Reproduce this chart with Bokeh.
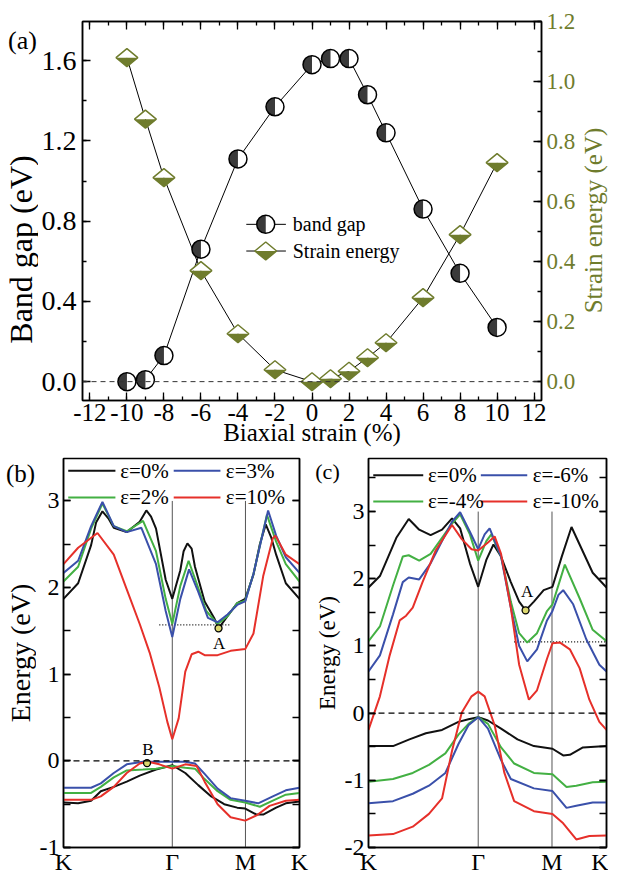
from math import pi
from bokeh.plotting import figure
from bokeh.models import (LinearAxis, Range1d, Label, SingleIntervalTicker,
                          FixedTicker, NumeralTickFormatter, Span, CustomJSTickFormatter)
from bokeh.layouts import column, row
from bokeh.embed import file_html
from bokeh.resources import INLINE

FONT = "Liberation Serif"
OLIVE = "#6f7c2d"
DARK = "#3a3a3a"
C_BLACK = "#111111"
C_GREEN = "#43b043"
C_BLUE = "#3a50aa"
C_RED = "#e6302a"

# ---------------- panel (a) data ----------------
STRAIN = [-10, -9, -8, -6, -4, -2, 0, 1, 2, 3, 4, 6, 8, 10]
BAND_GAP = [0.00, 0.01, 0.13, 0.66, 1.11, 1.37, 1.58, 1.61, 1.61, 1.43, 1.24, 0.86, 0.54, 0.27]
STRAIN_ENERGY = [1.08, 0.875, 0.68, 0.37, 0.16, 0.04, 0.00, 0.01, 0.035, 0.08, 0.13, 0.28, 0.49, 0.73]
A_SERIES = ["band gap", "Strain energy"]

# ---------------- k-path ----------------
KPATH_TICKS = [0.0, 0.461, 0.771, 1.0]
KPATH_LABELS = ["K", "Γ", "M", "K"]

# ---------------- panel (b) : tensile strain ----------------
B_LEGEND = ["ε=0%", "ε=3%", "ε=2%", "ε=10%"]
B_CB0_K = [0, 0.062, 0.117, 0.138, 0.165, 0.190, 0.213, 0.268, 0.323, 0.351, 0.371, 0.392, 0.433, 0.461, 0.495, 0.509, 0.525, 0.543, 0.557, 0.598, 0.640, 0.657, 0.695, 0.736, 0.770, 0.805, 0.832, 0.857, 0.880, 0.901, 0.942, 1.0]
B_CB0_E = [1.87, 2.05, 2.49, 2.75, 2.88, 2.80, 2.69, 2.64, 2.76, 2.89, 2.82, 2.68, 2.09, 1.87, 2.20, 2.42, 2.51, 2.45, 2.24, 1.84, 1.64, 1.53, 1.67, 1.82, 1.87, 2.15, 2.50, 2.73, 2.58, 2.38, 2.05, 1.87]
B_CB2_K = [0, 0.062, 0.117, 0.165, 0.213, 0.268, 0.337, 0.392, 0.433, 0.461, 0.495, 0.530, 0.564, 0.605, 0.653, 0.695, 0.736, 0.770, 0.805, 0.862, 0.901, 0.942, 1.0]
B_CB2_E = [2.07, 2.24, 2.68, 2.97, 2.71, 2.65, 2.77, 2.42, 1.87, 1.58, 2.02, 2.31, 2.05, 1.73, 1.58, 1.67, 1.82, 1.85, 2.16, 2.84, 2.53, 2.27, 2.07]
B_CB3_K = [0, 0.062, 0.117, 0.165, 0.213, 0.268, 0.330, 0.392, 0.433, 0.461, 0.495, 0.532, 0.571, 0.612, 0.653, 0.695, 0.736, 0.770, 0.805, 0.867, 0.901, 0.942, 1.0]
B_CB3_E = [2.17, 2.31, 2.71, 2.99, 2.71, 2.64, 2.69, 2.27, 1.73, 1.43, 1.87, 2.21, 1.95, 1.65, 1.60, 1.69, 1.80, 1.84, 2.16, 2.89, 2.60, 2.35, 2.17]
B_CB10_K = [0, 0.062, 0.144, 0.213, 0.268, 0.323, 0.365, 0.406, 0.440, 0.461, 0.488, 0.516, 0.543, 0.571, 0.598, 0.653, 0.708, 0.770, 0.805, 0.846, 0.887, 0.898, 0.942, 1.0]
B_CB10_E = [2.27, 2.46, 2.63, 2.38, 1.98, 1.58, 1.25, 0.85, 0.45, 0.25, 0.49, 1.03, 1.23, 1.26, 1.22, 1.22, 1.27, 1.29, 1.47, 2.13, 2.57, 2.60, 2.38, 2.27]
B_VB0_K = [0, 0.062, 0.117, 0.158, 0.213, 0.268, 0.323, 0.392, 0.461, 0.516, 0.571, 0.626, 0.681, 0.736, 0.770, 0.818, 0.846, 0.901, 0.942, 1.0]
B_VB0_E = [-0.48, -0.49, -0.46, -0.35, -0.30, -0.24, -0.17, -0.10, -0.05, -0.14, -0.28, -0.41, -0.50, -0.54, -0.55, -0.62, -0.62, -0.54, -0.49, -0.47]
B_VB2_K = [0, 0.117, 0.158, 0.213, 0.268, 0.337, 0.392, 0.461, 0.516, 0.557, 0.598, 0.653, 0.708, 0.770, 0.832, 0.887, 0.942, 1.0]
B_VB2_E = [-0.37, -0.37, -0.30, -0.19, -0.11, -0.10, -0.09, -0.06, -0.08, -0.09, -0.21, -0.35, -0.45, -0.48, -0.53, -0.46, -0.39, -0.37]
B_VB3_K = [0, 0.117, 0.158, 0.213, 0.268, 0.337, 0.392, 0.461, 0.516, 0.557, 0.598, 0.653, 0.708, 0.770, 0.825, 0.887, 0.942, 1.0]
B_VB3_E = [-0.31, -0.31, -0.26, -0.14, -0.04, -0.01, -0.01, -0.01, -0.01, -0.03, -0.15, -0.32, -0.43, -0.46, -0.49, -0.41, -0.34, -0.31]
B_VB10_K = [0, 0.117, 0.158, 0.213, 0.268, 0.323, 0.358, 0.406, 0.461, 0.516, 0.564, 0.598, 0.653, 0.708, 0.770, 0.818, 0.873, 0.942, 1.0]
B_VB10_E = [-0.45, -0.45, -0.41, -0.30, -0.14, -0.03, -0.01, -0.04, -0.09, -0.04, -0.06, -0.24, -0.50, -0.65, -0.69, -0.63, -0.52, -0.46, -0.45]
B_DOTTED_K = [0.406, 0.708]
B_DOTTED_E = [1.57, 1.57]
B_POINTS_K = [0.657, 0.354]
B_POINTS_E = [1.53, -0.026]
B_POINT_NAMES = ["A", "B"]

# ---------------- panel (c) : compressive strain ----------------
C_LEGEND = ["ε=0%", "ε=-6%", "ε=-4%", "ε=-10%"]
C_CB0_K = [0, 0.048, 0.117, 0.169, 0.213, 0.261, 0.309, 0.351, 0.385, 0.426, 0.461, 0.495, 0.525, 0.557, 0.598, 0.633, 0.660, 0.695, 0.736, 0.773, 0.812, 0.853, 0.887, 0.942, 1.0]
C_CB0_E = [1.87, 2.04, 2.61, 2.89, 2.73, 2.65, 2.73, 2.90, 2.75, 2.23, 1.88, 2.28, 2.51, 2.33, 1.95, 1.66, 1.53, 1.66, 1.83, 1.88, 2.33, 2.77, 2.51, 2.09, 1.87]
C_CB4_K = [0, 0.048, 0.103, 0.144, 0.169, 0.213, 0.261, 0.309, 0.351, 0.385, 0.426, 0.461, 0.495, 0.516, 0.557, 0.598, 0.633, 0.667, 0.708, 0.750, 0.773, 0.825, 0.887, 0.942, 1.0]
C_CB4_E = [1.07, 1.29, 1.90, 2.33, 2.35, 2.27, 2.37, 2.61, 2.82, 2.96, 2.66, 2.27, 2.56, 2.66, 2.33, 1.66, 1.19, 1.05, 1.19, 1.52, 1.62, 2.21, 1.71, 1.24, 1.07]
C_CB6_K = [0, 0.048, 0.103, 0.144, 0.169, 0.213, 0.261, 0.309, 0.351, 0.385, 0.426, 0.461, 0.488, 0.509, 0.557, 0.598, 0.633, 0.667, 0.708, 0.750, 0.773, 0.798, 0.818, 0.860, 0.915, 0.970, 1.0]
C_CB6_E = [0.62, 0.86, 1.47, 1.95, 2.02, 1.99, 2.23, 2.56, 2.85, 2.99, 2.70, 2.44, 2.66, 2.75, 2.33, 1.57, 1.00, 0.77, 0.95, 1.38, 1.52, 1.76, 1.83, 1.62, 1.10, 0.72, 0.62]
C_CB10_K = [0, 0.048, 0.089, 0.131, 0.158, 0.186, 0.227, 0.282, 0.351, 0.392, 0.433, 0.461, 0.502, 0.530, 0.557, 0.598, 0.633, 0.674, 0.708, 0.750, 0.773, 0.805, 0.846, 0.887, 0.928, 0.970, 1.0]
C_CB10_E = [-0.25, 0.25, 0.86, 1.38, 1.45, 1.57, 1.95, 2.42, 2.80, 2.59, 2.44, 2.42, 2.54, 2.63, 2.37, 1.57, 0.72, 0.20, 0.34, 0.81, 1.04, 1.05, 0.95, 0.67, 0.20, -0.13, -0.25]
C_VB0_K = [0, 0.103, 0.172, 0.241, 0.309, 0.378, 0.420, 0.461, 0.502, 0.557, 0.626, 0.695, 0.773, 0.818, 0.846, 0.901, 1.0]
C_VB0_E = [-0.49, -0.49, -0.39, -0.30, -0.25, -0.13, -0.09, -0.06, -0.11, -0.23, -0.39, -0.49, -0.53, -0.63, -0.62, -0.51, -0.49]
C_VB4_K = [0, 0.103, 0.186, 0.254, 0.323, 0.378, 0.420, 0.461, 0.502, 0.557, 0.612, 0.695, 0.773, 0.832, 0.873, 0.942, 1.0]
C_VB4_E = [-1.02, -0.98, -0.89, -0.77, -0.60, -0.32, -0.16, -0.06, -0.16, -0.51, -0.75, -0.89, -0.91, -1.10, -1.08, -1.03, -1.02]
C_VB6_K = [0, 0.103, 0.186, 0.254, 0.323, 0.378, 0.420, 0.461, 0.502, 0.557, 0.598, 0.695, 0.773, 0.832, 0.873, 0.942, 1.0]
C_VB6_E = [-1.34, -1.31, -1.20, -1.08, -0.89, -0.46, -0.18, -0.06, -0.23, -0.70, -0.98, -1.12, -1.16, -1.41, -1.38, -1.33, -1.33]
C_VB10_K = [0, 0.103, 0.186, 0.254, 0.309, 0.351, 0.392, 0.433, 0.461, 0.488, 0.530, 0.571, 0.612, 0.695, 0.773, 0.818, 0.873, 0.928, 1.0]
C_VB10_E = [-1.82, -1.80, -1.69, -1.50, -1.27, -0.56, 0.01, 0.25, 0.32, 0.25, -0.18, -0.89, -1.31, -1.46, -1.50, -1.64, -1.88, -1.83, -1.82]
C_DOTTED_K = [0.612, 1.0]
C_DOTTED_E = [1.06, 1.06]
C_POINTS_K = [0.660]
C_POINTS_E = [1.53]
C_POINT_NAMES = ["A"]

# ---------------- layout (pixels) ----------------
AX = (-12.4, 12.4)
AY = (-0.094, 1.795)
AY2 = (-0.0626, 1.2005)
BY = (-1.0, 3.49)
CY = (-2.0, 3.79)

A_H = 452
A_TOP, A_FH, A_BOT = 21, 379, 52
SAL_W, PA_W, SAR_W = 38, 540, 30
PA_BL, PA_BR = 42, 34
A_FW = PA_W - PA_BL - PA_BR

BC_H = 425
BC_TOP, BC_BOT = 6, 28
SBL_W, PB_W, SCL_W, PC_W = 36, 277, 28, 267
PB_BL, PB_BR = 24, 14
PC_BL, PC_BR = 26, 2
BC_FH = BC_H - BC_TOP - BC_BOT

EMPTY = CustomJSTickFormatter(code="return ''")


def style_axis(ax, size="26px", standoff=6, color="black", hide=False,
               tick_in=8, minor_in=4):
    ax.axis_line_width = 1.5
    ax.axis_line_color = "black"
    ax.major_tick_in = tick_in
    ax.major_tick_out = 0
    ax.minor_tick_in = minor_in
    ax.minor_tick_out = 0
    ax.major_tick_line_width = 1.3
    ax.minor_tick_line_width = 1.3
    ax.major_tick_line_color = "black"
    ax.minor_tick_line_color = "black"
    ax.major_label_text_font = FONT
    ax.major_label_text_font_size = size
    ax.major_label_text_color = color
    ax.major_label_standoff = 0 if hide else standoff
    if hide:
        ax.formatter = EMPTY


def base_fig(width, height, xr, yr, bl, br, bt, bb):
    p = figure(width=width, height=height, x_range=Range1d(*xr), y_range=Range1d(*yr),
               output_backend="svg", toolbar_location=None, title=None,
               min_border_left=bl, min_border_right=br,
               min_border_top=bt, min_border_bottom=bb)
    p.grid.visible = False
    p.outline_line_color = "black"
    p.outline_line_width = 1.5
    p.background_fill_color = "white"
    p.border_fill_color = "white"
    return p


def strip(width, height, frame_top, frame_h):
    # the strip's frame lines up with its row neighbours' frames, so its y range
    # is given in the figure's own pixel rows (measured from the top)
    s = figure(width=width, height=height, x_range=Range1d(0, width),
               y_range=Range1d(frame_top + frame_h, frame_top), output_backend="svg",
               toolbar_location=None, title=None, x_axis_type=None, y_axis_type=None,
               min_border_left=0, min_border_right=0,
               min_border_top=frame_top, min_border_bottom=height - frame_top - frame_h)
    s.grid.visible = False
    s.outline_line_color = None
    s.background_fill_color = "white"
    s.border_fill_color = "white"
    return s


def lab(p, x, y, text, size, align="center", color="black", angle=0.0,
        baseline="middle", y_range_name="default"):
    p.add_layout(Label(x=x, y=y, text=text, text_font=FONT, text_font_size=size,
                       text_align=align, text_baseline=baseline, text_color=color,
                       angle=angle, y_range_name=y_range_name))


# ================= panel (a) =================
pa = base_fig(PA_W, A_H, AX, AY, PA_BL, PA_BR, A_TOP, A_BOT)
pa.extra_y_ranges = {"se": Range1d(*AY2)}

xa = pa.xaxis[0]
xa.ticker = SingleIntervalTicker(interval=2, num_minor_ticks=2)
xa.formatter = NumeralTickFormatter(format="0")
style_axis(xa, size="25px", standoff=3)
xa.axis_label = "Biaxial strain (%)"
xa.axis_label_text_font = FONT
xa.axis_label_text_font_size = "25px"
xa.axis_label_text_font_style = "normal"
xa.axis_label_text_color = "black"
xa.axis_label_standoff = -5

ya = pa.yaxis[0]
ya.ticker = SingleIntervalTicker(interval=0.4, num_minor_ticks=2)
ya.formatter = NumeralTickFormatter(format="0.0")
style_axis(ya, size="28px", standoff=6)

ax_r = LinearAxis(y_range_name="se", ticker=SingleIntervalTicker(interval=0.2, num_minor_ticks=2),
                  formatter=NumeralTickFormatter(format="0.0"))
style_axis(ax_r, size="23px", standoff=5, color=OLIVE)
pa.add_layout(ax_r, "right")
ax_t = LinearAxis(ticker=SingleIntervalTicker(interval=2, num_minor_ticks=2))
style_axis(ax_t, hide=True)
pa.add_layout(ax_t, "above")

pa.add_layout(Span(location=0, dimension="width", line_color="#333333",
                   line_dash="5 4", line_width=1))

pa.line(STRAIN, BAND_GAP, line_color="black", line_width=1)
pa.line(STRAIN, STRAIN_ENERGY, line_color="black", line_width=1, y_range_name="se")

R_PX = 9
HW_PX, HH_PX = 11, 9
hw = HW_PX * (AX[1] - AX[0]) / A_FW


def half_circles(p, xs, ys):
    p.scatter(xs, ys, marker="circle", size=2 * R_PX, fill_color="white", line_color=None)
    p.wedge(xs, ys, radius=R_PX, radius_units="screen", start_angle=pi / 2,
            end_angle=3 * pi / 2, fill_color=DARK, line_color=None)
    p.scatter(xs, ys, marker="circle", size=2 * R_PX, fill_color=None,
              line_color="black", line_width=1.5)


def diamonds(p, xs, ys, hh, y_range_name):
    tx = [[x - hw, x, x + hw] for x in xs]
    ty = [[y, y + hh, y] for y in ys]
    by = [[y, y - hh, y] for y in ys]
    fx = [[x - hw, x, x + hw, x] for x in xs]
    fy = [[y, y + hh, y, y - hh] for y in ys]
    p.patches(tx, ty, fill_color="white", line_color=None, y_range_name=y_range_name)
    p.patches(tx, by, fill_color=OLIVE, line_color=None, y_range_name=y_range_name)
    p.patches(fx, fy, fill_color=None, line_color=OLIVE, line_width=1.5,
              y_range_name=y_range_name)


half_circles(pa, STRAIN, BAND_GAP)
diamonds(pa, STRAIN, STRAIN_ENERGY, HH_PX * (AY2[1] - AY2[0]) / A_FH, "se")

# legend of (a) (positions in data units of the left axis)
LEG_A_LINE = (-3.55, -1.41)
LEG_A_MARK_X = -2.5
LEG_A_TEXT_X = -1.04
LEG_A_ROWS = (0.784, 0.651)
for yv in LEG_A_ROWS:
    pa.line(list(LEG_A_LINE), [yv, yv], line_color="black", line_width=1)
half_circles(pa, [LEG_A_MARK_X], [LEG_A_ROWS[0]])
diamonds(pa, [LEG_A_MARK_X], [LEG_A_ROWS[1]], HH_PX * (AY[1] - AY[0]) / A_FH, "default")
for name, yv in zip(A_SERIES, LEG_A_ROWS):
    lab(pa, LEG_A_TEXT_X, yv, name, "20px", align="left")

s_al = strip(SAL_W, A_H, A_TOP, A_FH)
lab(s_al, 22, 40, "(a)", "26px")
lab(s_al, 20, 249, "Band gap (eV)", "32px", angle=pi / 2)
s_ar = strip(SAR_W, A_H, A_TOP, A_FH)
lab(s_ar, 15, 220, "Strain energy (eV)", "25px", angle=pi / 2, color=OLIVE)


# ================= panels (b) and (c) =================
def band_panel(width, bl, br, yr, curves, legend, leg_rows, dotted, points, point_labels):
    p = base_fig(width, BC_H, (0, 1), yr, bl, br, BC_TOP, BC_BOT)
    xb = p.xaxis[0]
    xb.ticker = FixedTicker(ticks=KPATH_TICKS)
    xb.major_label_overrides = {t: s for t, s in zip(KPATH_TICKS, KPATH_LABELS)}
    style_axis(xb, size="24px", standoff=1, tick_in=0, minor_in=0)
    yb = p.yaxis[0]
    yb.ticker = SingleIntervalTicker(interval=1, num_minor_ticks=2)
    yb.formatter = NumeralTickFormatter(format="0")
    style_axis(yb, size="24px", standoff=4, tick_in=7, minor_in=7)
    yr_ax = LinearAxis(ticker=SingleIntervalTicker(interval=1, num_minor_ticks=2))
    style_axis(yr_ax, hide=True, tick_in=7, minor_in=7)
    p.add_layout(yr_ax, "right")

    p.segment(x0=KPATH_TICKS[1:3], y0=[yr[0]] * 2, x1=KPATH_TICKS[1:3], y1=[3, 3],
              line_color="#555555", line_width=1)
    p.add_layout(Span(location=0, dimension="width", line_color="black",
                      line_dash="6 4", line_width=1.2))
    p.line(dotted[0], dotted[1], line_color="black", line_dash="1 2", line_width=1.2)

    for ks, es, col in curves:
        p.line(ks, es, line_color=col, line_width=2)

    p.scatter(points[0], points[1], marker="circle", size=7, fill_color="#ddd870",
              line_color="black", line_width=1.3)
    for (x, y, t) in point_labels:
        lab(p, x, y, t, "17px")

    cols = [C_BLACK, C_BLUE, C_GREEN, C_RED]
    for i, (text, col) in enumerate(zip(legend, cols)):
        (x0, x1, xt_), yv = leg_rows[0][i % 2], leg_rows[1][i // 2]
        p.line([x0, x1], [yv, yv], line_color=col, line_width=2)
        lab(p, xt_, yv, text, "21px", align="left")
    return p


pb = band_panel(
    PB_W, PB_BL, PB_BR, BY,
    [(B_CB0_K, B_CB0_E, C_BLACK), (B_VB0_K, B_VB0_E, C_BLACK),
     (B_CB2_K, B_CB2_E, C_GREEN), (B_VB2_K, B_VB2_E, C_GREEN),
     (B_CB3_K, B_CB3_E, C_BLUE), (B_VB3_K, B_VB3_E, C_BLUE),
     (B_CB10_K, B_CB10_E, C_RED), (B_VB10_K, B_VB10_E, C_RED)],
    B_LEGEND,
    ([(0.02, 0.22, 0.24), (0.467, 0.665, 0.688)], [3.35, 3.04]),
    (B_DOTTED_K, B_DOTTED_E), (B_POINTS_K, B_POINTS_E),
    [(0.660, 1.36, B_POINT_NAMES[0]), (0.358, 0.13, B_POINT_NAMES[1])])

pc = band_panel(
    PC_W, PC_BL, PC_BR, CY,
    [(C_CB0_K, C_CB0_E, C_BLACK), (C_VB0_K, C_VB0_E, C_BLACK),
     (C_CB4_K, C_CB4_E, C_GREEN), (C_VB4_K, C_VB4_E, C_GREEN),
     (C_CB6_K, C_CB6_E, C_BLUE), (C_VB6_K, C_VB6_E, C_BLUE),
     (C_CB10_K, C_CB10_E, C_RED), (C_VB10_K, C_VB10_E, C_RED)],
    C_LEGEND,
    ([(0.02, 0.23, 0.25), (0.472, 0.667, 0.69)], [3.54, 3.15]),
    (C_DOTTED_K, C_DOTTED_E), (C_POINTS_K, C_POINTS_E),
    [(0.667, 1.81, C_POINT_NAMES[0])])

mid_y = BC_TOP + BC_FH / 2
s_bl = strip(SBL_W, BC_H, BC_TOP, BC_FH)
lab(s_bl, 20, 21, "(b)", "25px")
lab(s_bl, 20, mid_y, "Energy (eV)", "28px", angle=pi / 2)
s_cl = strip(SCL_W, BC_H, BC_TOP, BC_FH)
lab(s_cl, 14, 19, "(c)", "22px")
lab(s_cl, 14, mid_y, "Energy (eV)", "23px", angle=pi / 2)

layout = column(row(s_al, pa, s_ar), row(s_bl, pb, s_cl, pc))
open("out.html", "w").write(file_html(layout, INLINE))
